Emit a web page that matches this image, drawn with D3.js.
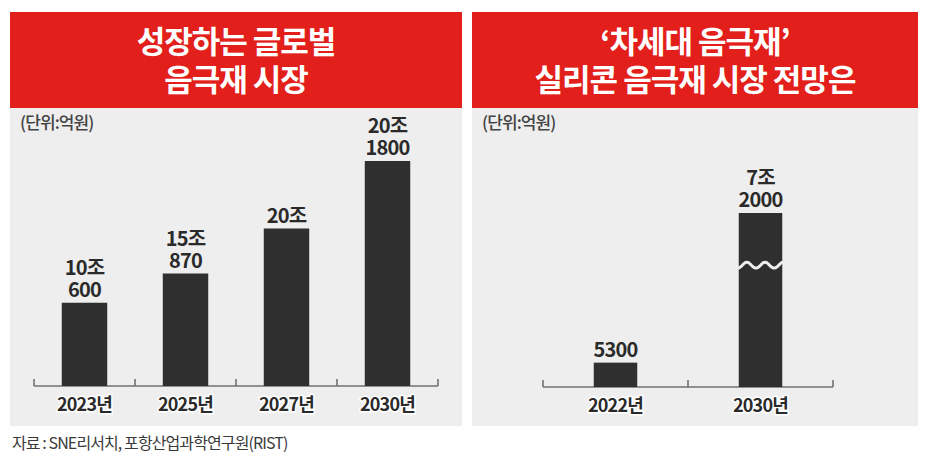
<!DOCTYPE html>
<html><head><meta charset="utf-8">
<script src="https://cdn.jsdelivr.net/npm/d3@7"></script>
<style>
html,body{margin:0;padding:0;background:#fff;}
text{font-family:"Noto Sans CJK KR","Noto Sans",sans-serif;}
</style></head>
<body><svg id="c" width="928" height="470"></svg>
<script>
// ---- data ----
const leftTitle = ["성장하는 글로벌", "음극재 시장"];
const leftCategories = ["2023년", "2025년", "2027년", "2030년"];
const leftLabels = [["10조", "600"], ["15조", "870"], ["20조"], ["20조", "1800"]];
const leftBarLevels = [37, 50, 70, 100]; // relative bar heights as drawn (not to scale in original)

const rightTitle = ["‘차세대 음극재’", "실리콘 음극재 시장 전망은"];
const rightCategories = ["2022년", "2030년"];
const rightLabels = [["5300"], ["7조", "2000"]];
const rightBarLevels = [14, 100]; // relative heights as drawn
const rightBreakLevel = 70;       // wavy axis-break drawn on the tall bar

const unitText = "(단위:억원)";
const sourceText = "자료 : SNE리서치, 포항산업과학연구원(RIST)";

// ---- styles ----
const RED = "#e21f1b", BG = "#eeeeee", BAR = "#2f2f2f", AXIS = "#707070", TXT = "#2a2a2a";

const svg = d3.select("#c");

function panel(cfg) {
  const g = svg.append("g");
  g.append("rect").attr("x", cfg.x0).attr("y", 12).attr("width", cfg.x1 - cfg.x0).attr("height", 414).attr("fill", BG);
  g.append("rect").attr("x", cfg.x0).attr("y", 12).attr("width", cfg.x1 - cfg.x0).attr("height", 96).attr("fill", RED);
  const cx = (cfg.x0 + cfg.x1) / 2;
  const tt = g.append("text").attr("text-anchor", "middle").attr("fill", "#fff")
    .attr("font-size", 31).attr("font-weight", 700).attr("letter-spacing", -1);
  cfg.title.forEach((t, i) => {
    tt.append("tspan").attr("x", cx).attr("y", 53 + i * 38).text(t);
  });
  g.append("text").attr("x", cfg.x0 + 10).attr("y", 129).attr("fill", "#444")
    .attr("font-size", 17).attr("font-weight", 500).attr("letter-spacing", -0.9).text(unitText);

  const x = d3.scaleBand().domain(cfg.cats).range(cfg.xr).paddingInner(cfg.pad).paddingOuter(cfg.pad / 2);
  const y = d3.scaleLinear().domain([0, 100]).range([cfg.base, cfg.top]);

  // axis line and boundary ticks
  g.append("line").attr("x1", cfg.xr[0]).attr("x2", cfg.xr[1]).attr("y1", cfg.base).attr("y2", cfg.base)
    .attr("stroke", AXIS).attr("stroke-width", 1.6);
  const bounds = cfg.cats.map(c => x(c) - x.step() * x.paddingInner() / 2).concat([cfg.xr[1]]);
  bounds[0] = cfg.xr[0];
  g.selectAll(".tk").data(bounds).join("line").attr("x1", d => d).attr("x2", d => d)
    .attr("y1", cfg.base).attr("y2", cfg.base - 7).attr("stroke", AXIS).attr("stroke-width", 1.6);

  // bars
  g.selectAll(".bar").data(cfg.levels).join("rect")
    .attr("x", (d, i) => x(cfg.cats[i])).attr("width", x.bandwidth())
    .attr("y", d => y(d)).attr("height", d => cfg.base - y(d)).attr("fill", BAR);

  // value labels (one text element per bar, lines as tspans)
  cfg.levels.forEach((v, i) => {
    const lines = cfg.labels[i];
    const cxb = x(cfg.cats[i]) + x.bandwidth() / 2;
    const t = g.append("text").attr("text-anchor", "middle").attr("fill", TXT)
      .attr("font-size", 20).attr("font-weight", 700).attr("letter-spacing", -0.8);
    lines.forEach((s, j) => {
      t.append("tspan").attr("x", cxb).attr("y", y(v) - 6 - (lines.length - 1 - j) * 22).text(s);
    });
  });

  // category labels
  cfg.cats.forEach(c => {
    g.append("text").attr("x", x(c) + x.bandwidth() / 2).attr("y", cfg.base + 25)
      .attr("text-anchor", "middle").attr("fill", TXT).attr("font-size", 18).attr("font-weight", 700)
      .attr("letter-spacing", -0.8)
      .attr("stroke", "#fff").attr("stroke-width", 3).attr("paint-order", "stroke").text(c);
  });

  // break wave
  if (cfg.breakLevel != null) {
    const i = cfg.levels.length - 1;
    const bx = x(cfg.cats[i]), bw = x.bandwidth(), by = y(cfg.breakLevel);
    const pts = d3.range(0, 41).map(k => [bx - 1 + (bw + 2) * k / 40, by + 3 * Math.sin(k / 40 * 2.5 * 2 * Math.PI + Math.PI / 2)]);
    g.append("path").attr("d", d3.line().curve(d3.curveBasis)(pts)).attr("fill", "none")
      .attr("stroke", BG).attr("stroke-width", 3);
  }
}

panel({x0: 10, x1: 462, title: leftTitle, cats: leftCategories, labels: leftLabels, levels: leftBarLevels,
  xr: [34, 438], pad: 0.55, base: 386, top: 161});
panel({x0: 472, x1: 918, title: rightTitle, cats: rightCategories, labels: rightLabels, levels: rightBarLevels,
  xr: [543, 833], pad: 0.7, base: 387, top: 213, breakLevel: rightBreakLevel});

svg.append("text").attr("x", 12).attr("y", 449).attr("fill", "#3a3a3a").attr("font-size", 16)
  .attr("letter-spacing", -0.9).text(sourceText);
</script></body></html>
